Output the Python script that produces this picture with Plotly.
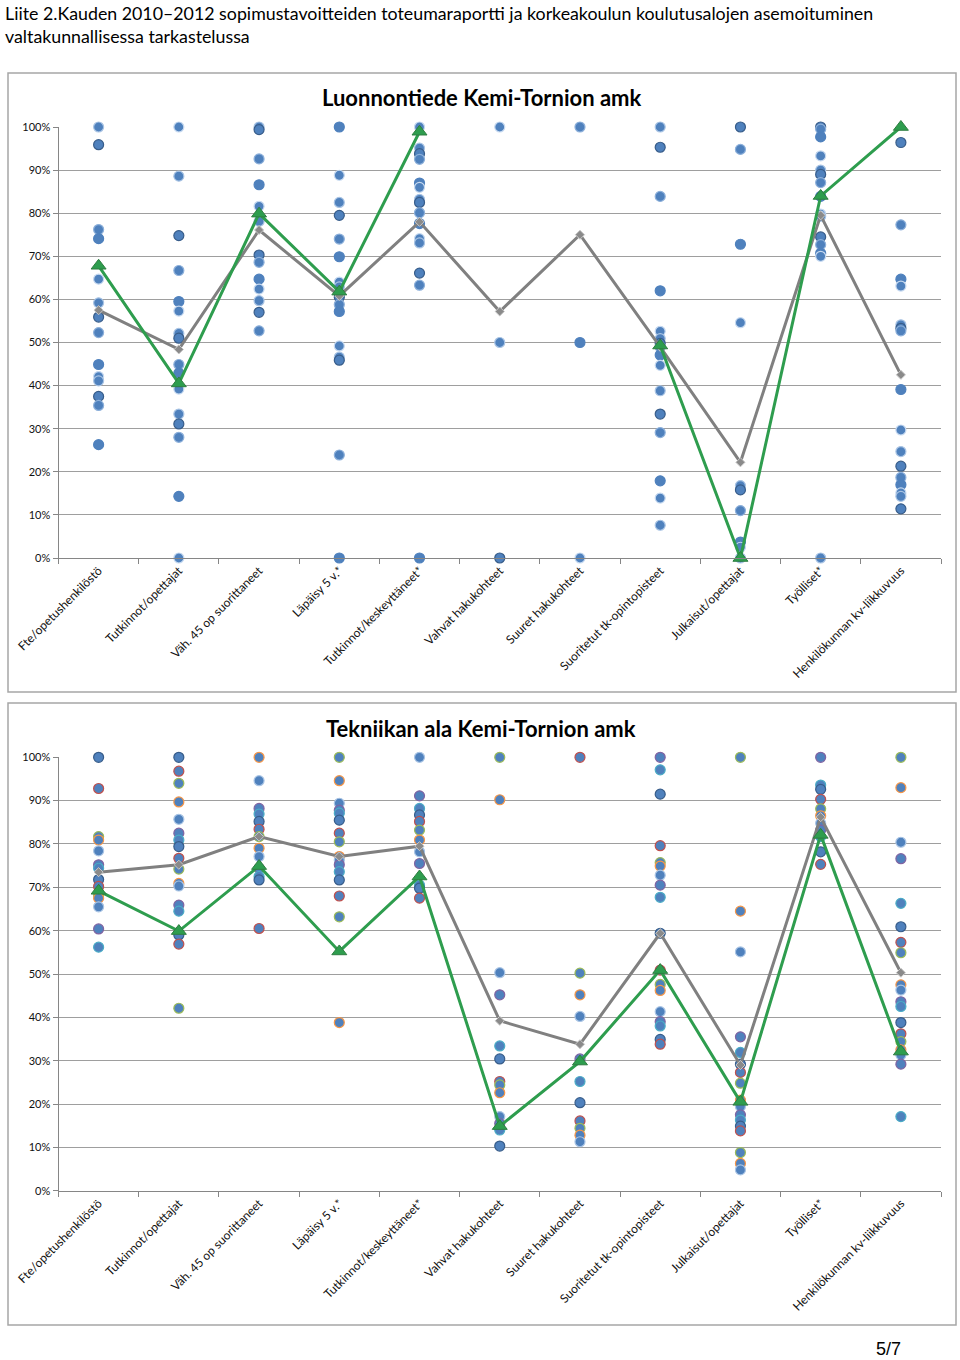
import plotly.graph_objects as go

categories = ["Fte/opetushenkilöstö", "Tutkinnot/opettajat", "Väh. 45 op suorittaneet",
              "Läpäisy 5 v.*", "Tutkinnot/keskeyttäneet*", "Vahvat hakukohteet",
              "Suuret hakukohteet", "Suoritetut tk-opintopisteet", "Julkaisut/opettajat",
              "Työlliset*", "Henkilökunnan kv-liikkuvuus"]

# Chart 1: Luonnontiede – values of all institutions (dots), national mean (gray), Kemi-Tornio (green)
nat_dots = [
    [100, 95.9, 76.2, 74.1, 64.7, 59.2, 55.9, 52.3, 44.9, 42.1, 41.1, 37.5, 35.4, 26.3],
    [100, 88.6, 74.8, 66.7, 59.5, 57.3, 52.1, 51.0, 44.9, 42.9, 39.2, 33.4, 31.1, 28.0, 14.3, 0],
    [100, 99.4, 92.6, 86.6, 81.6, 78.1, 70.3, 68.6, 64.7, 62.4, 59.7, 57.0, 52.7],
    [100, 88.8, 82.5, 79.5, 74.0, 69.9, 64.0, 62.9, 60.5, 58.8, 57.2, 49.2, 46.6, 45.9, 23.9, 0],
    [100, 95.1, 93.8, 92.5, 87.0, 86.0, 83.2, 82.5, 80.1, 77.6, 74.1, 73.1, 66.1, 63.3, 0],
    [100, 50.0, 0],
    [100, 50.0, 0],
    [100, 95.3, 83.9, 62.0, 52.6, 50.9, 49.8, 48.9, 47.1, 44.7, 38.8, 33.4, 29.1, 17.9, 13.9, 7.6],
    [100, 94.8, 72.8, 54.6, 16.8, 15.8, 11.0, 3.7, 2.5, 0],
    [100, 99.5, 97.7, 93.3, 90.0, 89.0, 87.1, 83.9, 79.8, 79.3, 74.5, 72.7, 70.7, 70.0, 0],
    [96.4, 77.3, 64.7, 63.1, 54.1, 53.3, 52.7, 39.1, 29.7, 24.7, 21.3, 18.7, 17.0, 15.1, 14.3, 11.4],
]
nat_mean = [57.5, 48.4, 76.1, 60.8, 78.0, 57.2, 75.0, 49.0, 22.2, 79.5, 42.5]
nat_kt = [67.8, 40.5, 79.9, 61.8, 98.9, None, None, 49.3, 0, 84.0, 100]

# Chart 2: Tekniikan ala
tek_dots = [
    [100, 92.8, 81.7, 80.9, 78.4, 75.2, 74.4, 71.8, 70.2, 68.2, 67.5, 65.5, 60.4, 56.2],
    [100, 96.8, 94.0, 89.7, 85.7, 82.5, 80.9, 79.4, 76.7, 74.2, 70.9, 70.3, 65.9, 64.5, 59.0, 56.9, 42.1],
    [100, 94.6, 88.2, 86.9, 85.2, 83.4, 81.7, 79.0, 77.1, 74.4, 72.5, 71.7, 60.5],
    [100, 94.6, 89.4, 87.8, 87.1, 85.5, 82.5, 80.5, 77.1, 76.3, 75.2, 73.6, 71.7, 68.0, 63.2, 38.8],
    [100, 91.1, 88.2, 86.7, 85.2, 83.2, 80.9, 78.2, 75.5, 70.5, 69.8, 67.5],
    [100, 90.2, 50.3, 45.2, 33.4, 30.4, 25.2, 24.4, 22.6, 17.1, 15.5, 14.0, 10.3],
    [100, 50.2, 45.2, 40.2, 30.4, 25.2, 20.3, 16.1, 14.4, 12.8, 11.3],
    [100, 97.1, 91.5, 79.6, 75.7, 74.9, 72.8, 70.5, 67.7, 59.4, 50.9, 47.6, 46.2, 41.3, 39.0, 38.0, 34.9, 33.8],
    [100, 64.5, 55.1, 35.5, 31.9, 29.2, 27.3, 24.8, 20.9, 19.4, 17.5, 16.3, 14.9, 13.8, 8.8, 6.3, 4.8],
    [100, 93.6, 92.6, 90.3, 88.1, 86.5, 84.8, 83.2, 81.7, 78.2, 75.3],
    [100, 93.0, 80.4, 76.6, 66.3, 60.9, 57.3, 54.9, 47.5, 46.3, 43.6, 42.5, 38.8, 36.2, 34.4, 32.5, 31.3, 29.2, 17.1],
]
tek_mean = [73.5, 75.2, 81.7, 77.1, 79.5, 39.2, 33.8, 59.4, 29.0, 86.2, 50.3]
tek_kt = [69.2, 59.9, 74.9, 55.2, 72.5, 14.9, 29.8, 50.9, 20.5, 82.1, 32.1]

chart_titles = ["Luonnontiede Kemi-Tornion amk", "Tekniikan ala Kemi-Tornion amk"]
page_title = ("Liite 2.Kauden 2010–2012 sopimustavoitteiden toteumaraportti ja korkeakoulun "
              "koulutusalojen asemoituminen<br>valtakunnallisessa tarkastelussa")
page_number = "5/7"
y_ticks = [0, 10, 20, 30, 40, 50, 60, 70, 80, 90, 100]
y_tick_labels = [f"{v}%" for v in y_ticks]

W, H = 960, 1360
FONT = "Lato"
DOT_FILL = "#4F81BD"
OUTLINES1 = ["#A9C4E4", "#385D8A", "#8DB0DA", "#4F81BD", "#C6D9F0"]
OUTLINES2 = ["#385D8A", "#C0504D", "#9BBB59", "#F79646", "#A9C4E4", "#8064A2", "#4BACC6"]

fig = go.Figure()


def py(px):
    return 1 - px / H


panels = [
    dict(dots=nat_dots, mean=nat_mean, kt=nat_kt, top=127, bottom=558, xa="x", ya="y",
         outlines=OUTLINES1, title=chart_titles[0], title_y=98, box=(8, 73, 956, 692)),
    dict(dots=tek_dots, mean=tek_mean, kt=tek_kt, top=757.3, bottom=1190.7, xa="x2", ya="y2",
         outlines=OUTLINES2, title=chart_titles[1], title_y=728, box=(8, 703, 956, 1325)),
]

x_dom = [58.5 / W, 941 / W]

for i, p in enumerate(panels):
    xs, ys, lc = [], [], []
    k = 0
    for ci, vals in enumerate(p["dots"]):
        for v in vals:
            xs.append(categories[ci])
            ys.append(v)
            lc.append(p["outlines"][k % len(p["outlines"])])
            k += 1
    fig.add_trace(go.Scatter(x=xs, y=ys, mode="markers", xaxis=p["xa"], yaxis=p["ya"],
                             marker=dict(size=10, color=DOT_FILL, line=dict(color=lc, width=1.2)),
                             cliponaxis=False, showlegend=False, hoverinfo="skip"))
    fig.add_trace(go.Scatter(x=categories, y=p["mean"], mode="lines+markers",
                             xaxis=p["xa"], yaxis=p["ya"],
                             line=dict(color="#808080", width=3),
                             marker=dict(symbol="diamond", size=7, color="#8A8A8A",
                                         line=dict(color="#C8C8C8", width=1)),
                             cliponaxis=False, showlegend=False))
    fig.add_trace(go.Scatter(x=categories, y=p["kt"], mode="lines+markers",
                             xaxis=p["xa"], yaxis=p["ya"], connectgaps=False,
                             line=dict(color="#2E9D4E", width=3),
                             marker=dict(symbol="triangle-up", size=13, color="#2E9D4E",
                                         line=dict(color="#2E7D40", width=1)),
                             cliponaxis=False, showlegend=False))

    sfx = "" if i == 0 else "2"
    fig.update_layout(**{
        "xaxis" + sfx: dict(domain=x_dom, anchor="y" + sfx, type="category",
                            categoryorder="array", categoryarray=categories,
                            range=[-0.5, 10.5], showline=True, linecolor="#868686", linewidth=1,
                            ticks="outside", tickson="boundaries", ticklen=5, tickcolor="#868686",
                            tickangle=-45, showgrid=False, zeroline=False, automargin=False,
                            tickfont=dict(family=FONT, size=12, color="#111")),
        "yaxis" + sfx: dict(domain=[py(p["bottom"]), py(p["top"])], anchor="x" + sfx,
                            range=[0, 100], tickmode="array", tickvals=y_ticks,
                            ticktext=y_tick_labels, automargin=False,
                            showline=True, linecolor="#868686", linewidth=1,
                            ticks="outside", ticklen=5, tickcolor="#868686",
                            showgrid=True, gridcolor="#9E9E9E", gridwidth=1, zeroline=False,
                            tickfont=dict(family=FONT, size=11, color="#111")),
    })
    x0, y0, x1, y1 = p["box"]
    fig.add_shape(type="rect", xref="paper", yref="paper", x0=x0 / W, x1=x1 / W,
                  y0=py(y1), y1=py(y0), line=dict(color="#A6A6A6", width=1.5))
    fig.add_annotation(text="<b>" + p["title"] + "</b>", xref="paper", yref="paper",
                       x=481 / W, y=py(p["title_y"]), xanchor="center", yanchor="middle",
                       showarrow=False, font=dict(family=FONT, size=22, color="#000"))

fig.add_annotation(text=page_title, xref="paper", yref="paper", x=3 / W, y=py(0),
                   xanchor="left", yanchor="top", align="left", showarrow=False,
                   font=dict(family=FONT, size=17.8, color="#000"))
fig.add_annotation(text=page_number, xref="paper", yref="paper", x=888 / W, y=py(1349),
                   xanchor="center", yanchor="middle", showarrow=False,
                   font=dict(family="Liberation Sans", size=18, color="#000"))

fig.update_layout(width=W, height=H, margin=dict(l=0, r=0, t=0, b=0),
                  paper_bgcolor="white", plot_bgcolor="white", showlegend=False)

fig.write_html("out.html", config={"displayModeBar": False},
               post_script="document.body.style.margin='0';")
